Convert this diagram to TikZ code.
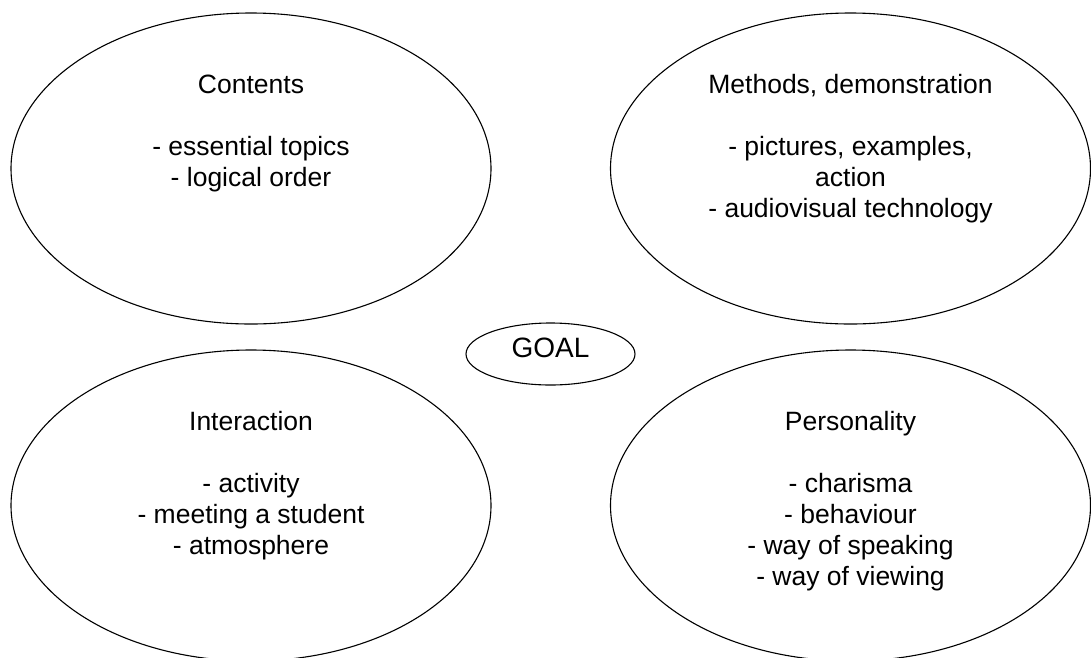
\documentclass[tikz,border=0pt]{standalone}
\usepackage{fontspec}
\setmainfont{Liberation Sans}
\usetikzlibrary{shapes.geometric,positioning}

\begin{document}
\begin{tikzpicture}[
    x=1pt, y=-1pt,
    area/.style={draw, ellipse, line width=1.1pt, minimum width=480pt, minimum height=311pt, inner sep=0pt},
    areatext/.style={align=center, inner sep=0pt, font=\fontsize{26.5}{31}\selectfont},
    goalnode/.style={draw, ellipse, line width=1.1pt, minimum width=169pt, minimum height=62pt,
        inner sep=0pt, text depth=12pt, font=\fontsize{28}{33}\selectfont}
]
\useasboundingbox (0,0) rectangle (1091,657);

\node[area] (contents)    at (251,168.5)   {};
\node[area] (methods)     at (850.5,168.5) {};
\node[area] (interaction) at (251,505.5)   {};
\node[area] (personality) at (850.5,505.5) {};
\node[goalnode] (goal)    at (550.5,354)   {GOAL};

\node[areatext, below=62pt of contents.north] (contents-text)
    {Contents\\[31pt]- essential topics\\- logical order};
\node[areatext, below=62pt of methods.north] (methods-text)
    {Methods, demonstration\\[31pt]- pictures, examples,\\action\\- audiovisual technology};
\node[areatext, below=62pt of interaction.north] (interaction-text)
    {Interaction\\[31pt]- activity\\- meeting a student\\- atmosphere};
\node[areatext, below=62pt of personality.north] (personality-text)
    {Personality\\[31pt]- charisma\\- behaviour\\- way of speaking\\- way of viewing};
\end{tikzpicture}
\end{document}
